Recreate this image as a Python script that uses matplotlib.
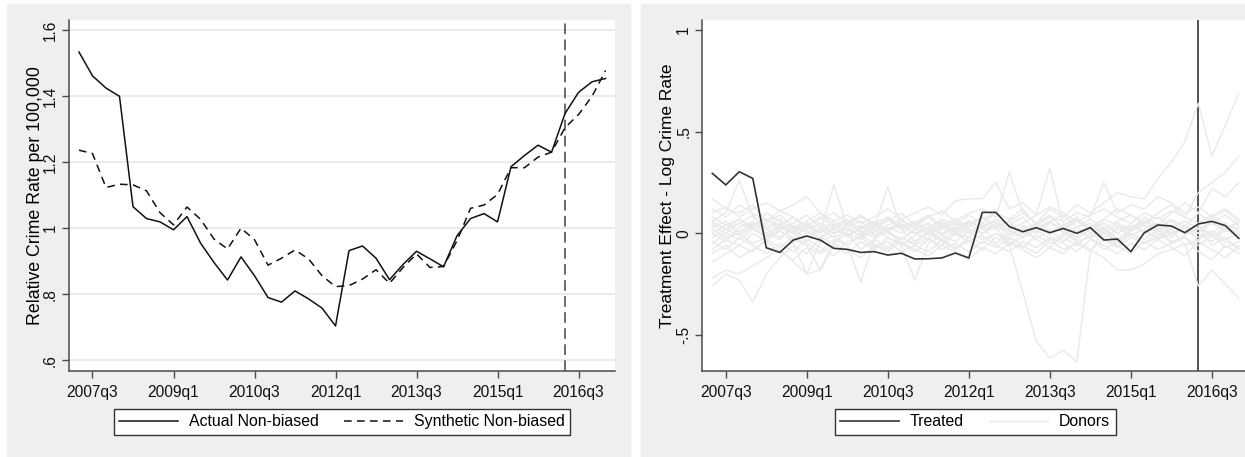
import numpy as np
import pandas as pd
import matplotlib.pyplot as plt
from matplotlib.patches import Rectangle

plt.rcParams['font.family'] = ['Liberation Sans', 'DejaVu Sans']

# quarterly periods 2007q2 .. 2017q1
quarters = pd.period_range('2007Q2', '2017Q1', freq='Q')
tick_quarters = ['2007q3', '2009q1', '2010q3', '2012q1', '2013q3', '2015q1', '2016q3']
treat_quarter = '2016q2'

# left panel: relative crime rate per 100,000
actual = [1.533, 1.461, 1.424, 1.399, 1.065, 1.029, 1.019, 0.995, 1.035, 0.955,
          0.896, 0.843, 0.913, 0.856, 0.790, 0.776, 0.810, 0.786, 0.758, 0.704,
          0.932, 0.946, 0.909, 0.844, 0.890, 0.930, 0.907, 0.883, 0.977, 1.029,
          1.044, 1.019, 1.186, 1.220, 1.251, 1.230, 1.347, 1.411, 1.443, 1.453]
synthetic = [1.236, 1.226, 1.123, 1.133, 1.131, 1.113, 1.047, 1.010, 1.064, 1.027,
             0.967, 0.937, 1.000, 0.965, 0.888, 0.909, 0.934, 0.907, 0.856, 0.823,
             0.826, 0.846, 0.874, 0.833, 0.881, 0.922, 0.881, 0.884, 0.962, 1.060,
             1.070, 1.102, 1.183, 1.183, 1.215, 1.230, 1.304, 1.344, 1.399, 1.477]

# right panel: treatment effect on log crime rate
treated = [0.295, 0.238, 0.303, 0.270, -0.071, -0.094, -0.033, -0.013, -0.033, -0.074,
           -0.079, -0.094, -0.090, -0.107, -0.098, -0.126, -0.125, -0.121, -0.097, -0.121,
           0.103, 0.103, 0.033, 0.008, 0.028, 0.003, 0.024, 0.000, 0.028, -0.033,
           -0.028, -0.090, 0.003, 0.041, 0.036, 0.003, 0.046, 0.059, 0.038, -0.025]

donors = [
    [0.17, 0.12, 0.10, 0.14, 0.06, 0.04, 0.08, 0.02, 0.05, 0.00, 0.03, -0.02, 0.04, 0.01, -0.03, 0.02, 0.05, 0.00, 0.03, 0.06,
     0.02, 0.04, -0.01, 0.03, 0.00, 0.05, 0.02, -0.02, 0.04, 0.01, 0.03, -0.01, 0.02, 0.05, 0.00, 0.03, -0.04, 0.08, 0.02, 0.05],
    [0.06, 0.10, 0.26, 0.08, 0.02, 0.05, -0.03, 0.04, 0.00, 0.06, -0.02, 0.03, 0.00, 0.08, 0.02, -0.04, 0.01, 0.05, 0.00, 0.04,
     0.08, 0.03, 0.06, -0.02, 0.05, 0.01, 0.04, 0.07, 0.00, 0.03, -0.03, 0.02, 0.06, 0.03, -0.01, 0.04, 0.00, 0.09, 0.04, 0.02],
    [-0.26, -0.20, -0.23, -0.34, -0.20, -0.12, -0.06, -0.10, -0.02, -0.05, 0.00, -0.08, -0.03, 0.02, -0.06, -0.01, 0.03, -0.04, 0.00, -0.02,
     0.04, -0.05, 0.00, 0.03, -0.03, 0.02, -0.04, 0.01, -0.02, 0.03, -0.06, 0.00, -0.03, 0.02, -0.05, -0.01, 0.03, -0.06, -0.02, -0.08],
    [-0.22, -0.18, -0.20, -0.16, -0.12, -0.08, -0.14, -0.20, -0.18, -0.06, -0.10, -0.04, -0.08, -0.02, -0.05, -0.09, -0.03, -0.06, 0.00, -0.04,
     -0.08, -0.02, -0.06, 0.01, -0.03, -0.07, 0.00, -0.04, -0.02, -0.08, -0.04, 0.00, -0.05, -0.02, 0.02, -0.06, -0.03, 0.00, -0.07, -0.04],
    [0.05, 0.02, 0.07, 0.03, 0.10, 0.06, 0.02, 0.05, 0.00, 0.24, 0.03, 0.06, 0.01, 0.04, 0.07, 0.02, 0.05, -0.01, 0.03, 0.00,
     0.05, 0.02, -0.03, 0.04, 0.01, 0.06, 0.00, 0.03, 0.05, -0.02, 0.02, 0.04, 0.00, 0.03, 0.06, 0.01, 0.04, -0.02, 0.03, 0.00],
    [0.00, -0.04, 0.03, 0.06, 0.00, -0.03, 0.04, 0.01, -0.02, 0.03, 0.06, 0.00, 0.03, 0.23, 0.02, 0.05, -0.01, 0.04, 0.07, 0.02,
     0.00, 0.05, 0.02, -0.02, 0.03, 0.06, 0.01, -0.03, 0.02, 0.05, 0.00, 0.04, 0.01, -0.02, 0.03, 0.06, 0.02, 0.00, 0.05, 0.01],
    [-0.08, -0.03, -0.06, 0.00, -0.04, 0.02, -0.05, -0.20, -0.04, -0.01, -0.06, -0.24, -0.03, -0.07, -0.02, -0.05, 0.00, -0.04, -0.08, -0.02,
     -0.05, 0.00, -0.04, -0.07, -0.01, -0.05, -0.02, -0.06, 0.00, -0.03, -0.07, -0.02, -0.05, 0.00, -0.04, -0.02, -0.06, -0.01, -0.04, -0.07],
    [0.02, -0.02, 0.00, -0.05, -0.02, 0.01, -0.03, -0.06, -0.18, -0.04, 0.00, -0.03, 0.02, -0.02, -0.06, -0.23, -0.05, -0.01, -0.04, 0.01,
     -0.03, 0.00, -0.05, -0.02, 0.02, -0.03, -0.01, 0.03, -0.02, 0.00, -0.04, -0.01, 0.02, -0.03, 0.00, 0.03, -0.02, 0.01, -0.03, 0.00],
    [0.10, 0.13, 0.08, 0.12, 0.15, 0.11, 0.14, 0.18, 0.10, 0.06, 0.09, 0.05, 0.08, 0.12, 0.07, 0.10, 0.13, 0.09, 0.16, 0.17,
     0.17, 0.25, 0.12, 0.15, 0.09, 0.13, 0.10, 0.06, 0.09, 0.12, 0.08, 0.05, 0.10, 0.07, 0.11, 0.08, 0.05, 0.09, 0.12, 0.07],
    [0.03, 0.06, 0.00, 0.04, 0.07, 0.02, 0.05, 0.09, 0.03, 0.00, 0.04, 0.08, 0.05, 0.02, 0.06, 0.03, 0.08, 0.11, 0.06, 0.10,
     0.12, 0.08, 0.30, 0.10, 0.05, 0.09, 0.02, 0.06, 0.03, 0.07, 0.04, 0.01, 0.05, 0.08, 0.03, 0.06, 0.02, 0.05, 0.09, 0.04],
    [-0.05, 0.00, -0.03, 0.02, -0.01, 0.03, 0.00, -0.04, 0.02, -0.02, 0.01, 0.04, -0.01, 0.02, 0.05, 0.00, -0.03, 0.02, 0.05, 0.01,
     0.03, 0.06, 0.02, 0.05, 0.09, 0.32, 0.04, 0.08, 0.02, 0.05, 0.00, 0.03, 0.06, 0.01, 0.04, 0.00, 0.02, 0.05, 0.01, 0.03],
    [0.08, 0.04, 0.07, 0.02, 0.05, 0.09, 0.03, 0.06, 0.10, 0.04, 0.07, 0.02, 0.05, 0.08, 0.03, 0.06, 0.02, 0.07, 0.04, 0.09,
     0.05, 0.10, 0.07, 0.12, 0.04, 0.08, 0.06, 0.10, 0.08, 0.25, 0.10, 0.14, 0.12, 0.18, 0.15, 0.10, 0.13, 0.08, 0.11, 0.06],
    [0.04, 0.00, 0.05, 0.02, -0.02, 0.03, 0.00, 0.04, -0.03, 0.02, 0.05, 0.01, -0.02, 0.03, 0.00, 0.04, 0.01, -0.03, 0.02, 0.05,
     0.00, 0.03, -0.06, -0.29, -0.53, -0.615, -0.574, -0.632, -0.09, 0.02, -0.03, 0.01, 0.04, 0.00, -0.02, 0.03, 0.00, -0.04, 0.02, -0.01],
    [0.00, 0.04, 0.01, 0.05, 0.02, -0.02, 0.03, 0.00, 0.05, 0.02, -0.01, 0.03, 0.06, 0.01, 0.04, 0.00, 0.03, 0.06, 0.02, 0.05,
     0.08, 0.03, 0.06, 0.10, 0.05, 0.12, 0.08, 0.14, 0.10, 0.15, 0.20, 0.18, 0.17, 0.27, 0.35, 0.45, 0.64, 0.38, 0.53, 0.69],
    [0.06, 0.02, 0.05, 0.09, 0.03, 0.07, 0.01, 0.04, 0.08, 0.03, 0.06, 0.00, 0.04, 0.07, 0.02, 0.05, 0.09, 0.04, 0.01, 0.06,
     0.03, 0.07, 0.04, 0.00, 0.05, 0.08, 0.03, 0.06, 0.02, 0.07, 0.12, 0.09, 0.05, 0.10, 0.14, 0.08, 0.20, 0.25, 0.30, 0.38],
    [-0.10, -0.06, -0.12, -0.08, -0.04, -0.09, -0.13, -0.07, -0.10, -0.05, -0.08, -0.12, -0.06, -0.09, -0.04, -0.08, -0.11, -0.06, -0.09, -0.13,
     -0.07, -0.10, -0.05, -0.08, -0.12, -0.07, -0.10, -0.04, -0.08, -0.12, -0.18, -0.18, -0.15, -0.10, -0.08, -0.05, -0.26, -0.18, -0.25, -0.32],
    [-0.02, 0.02, -0.01, 0.03, 0.00, 0.04, 0.01, -0.02, 0.03, 0.00, 0.02, -0.01, 0.03, 0.00, -0.03, 0.02, 0.00, 0.03, -0.01, 0.02,
     0.00, 0.04, 0.01, -0.02, 0.03, 0.00, 0.04, 0.01, 0.03, 0.00, 0.05, 0.02, 0.08, 0.04, 0.10, 0.15, 0.10, 0.22, 0.18, 0.25],
    [0.12, 0.08, 0.14, 0.10, 0.06, 0.11, 0.08, 0.03, 0.07, 0.10, 0.05, 0.09, 0.03, 0.06, 0.10, 0.04, 0.08, 0.02, 0.06, 0.03,
     0.07, 0.10, 0.04, 0.08, 0.01, 0.06, 0.09, 0.03, 0.07, 0.02, 0.06, 0.09, 0.04, 0.02, 0.07, 0.03, 0.10, 0.05, 0.02, 0.06],
    [-0.14, -0.10, -0.06, -0.09, -0.03, -0.07, -0.02, -0.05, -0.09, -0.03, -0.06, -0.01, -0.05, -0.08, -0.02, -0.06, -0.09, -0.03, -0.07, -0.04,
     -0.01, -0.06, -0.09, -0.04, -0.07, -0.02, -0.05, -0.09, -0.03, -0.06, -0.10, -0.05, -0.08, -0.03, -0.07, -0.11, -0.04, -0.08, -0.12, -0.06],
    [-0.04, -0.08, -0.02, -0.06, -0.10, -0.05, -0.09, -0.03, -0.07, -0.11, -0.04, -0.02, -0.07, -0.04, -0.09, -0.06, -0.02, -0.08, -0.05, -0.09,
     -0.04, -0.07, -0.02, -0.06, -0.10, -0.03, -0.08, -0.05, -0.09, -0.02, -0.06, -0.10, -0.04, -0.08, -0.05, -0.02, -0.09, -0.13, -0.06, -0.10],
]

left_yticks = [0.6, 0.8, 1.0, 1.2, 1.4, 1.6]
left_ylabels = ['.6', '.8', '1', '1.2', '1.4', '1.6']
right_yticks = [-0.5, 0, 0.5, 1]
right_ylabels = ['-.5', '0', '.5', '1']

qlabels = [f"{p.year}q{p.quarter}" for p in quarters]
x = np.arange(len(qlabels))
tick_pos = [qlabels.index(q) for q in tick_quarters]
treat_pos = qlabels.index(treat_quarter)

W, H = 1245, 457
fig = plt.figure(figsize=(W / 100, H / 100), dpi=100)
bg = '#efefef'
fig.patches.append(Rectangle((7 / W, 0), (630 - 7) / W, (H - 4) / H,
                             transform=fig.transFigure, color=bg, zorder=-5))
fig.patches.append(Rectangle((641 / W, 0), (W - 641) / W, (H - 4) / H,
                             transform=fig.transFigure, color=bg, zorder=-5))

ax1 = fig.add_axes([69 / W, 86 / H, 546 / W, 351 / H])
ax2 = fig.add_axes([702.3 / W, 86 / H, 546 / W, 351 / H])

axcol = '#4a4a4a'
for ax in (ax1, ax2):
    ax.set_facecolor('white')
    for s in ('top', 'right'):
        ax.spines[s].set_visible(False)
    for s in ('left', 'bottom'):
        ax.spines[s].set_color(axcol)
        ax.spines[s].set_linewidth(1.1)
    ax.set_xlim(-0.74, 39.7)
    ax.set_xticks(tick_pos)
    ax.set_xticklabels(tick_quarters)
    ax.tick_params(axis='both', direction='out', length=5, width=1, color=axcol,
                   labelsize=11.2, labelcolor='#111111')
    ax.tick_params(axis='x', pad=5)
    ax.tick_params(axis='y', pad=3, labelrotation=90)

# left panel
ax1.set_ylim(0.5676, 1.630)
ax1.set_yticks(left_yticks)
ax1.set_yticklabels(left_ylabels)
ax1.grid(axis='y', color='#e6e6e6', linewidth=1.1)
ax1.set_axisbelow(True)
ax1.axvline(treat_pos, color='#444444', linewidth=1.1, dashes=(7, 3.5))
ax1.plot(x, actual, color='#111111', linewidth=1.1, label='Actual Non-biased')
ax1.plot(x, synthetic, color='#111111', linewidth=1.1, dashes=(5, 3.5),
         label='Synthetic Non-biased')
ax1.set_ylabel('Relative Crime Rate per 100,000', fontsize=12.8, labelpad=-1)

# right panel
ax2.set_ylim(-0.677, 1.049)
ax2.set_yticks(right_yticks)
ax2.set_yticklabels(right_ylabels)
ax2.axvline(treat_pos, color='#333333', linewidth=1.2)
for k, d in enumerate(donors):
    ax2.plot(x, d, color='#e9e9e9', linewidth=1.0,
             label='Donors' if k == 0 else None)
ax2.plot(x, treated, color='#333333', linewidth=1.2, label='Treated')
ax2.set_ylabel('Treatment Effect - Log Crime Rate', fontsize=12.5, labelpad=0.5)

for ax in (ax1, ax2):
    for t in ax.get_yticklabels():
        t.set_va('center')

leg_kw = dict(loc='upper center', bbox_to_anchor=(0.5, -0.085), ncol=2,
              fontsize=11.4, frameon=True, fancybox=False, framealpha=1,
              edgecolor='#333333', handlelength=3.7, handletextpad=0.7,
              columnspacing=1.6, borderpad=0.35)
l1 = ax1.legend(**leg_kw)
h, lab = ax2.get_legend_handles_labels()
l2 = ax2.legend([h[1], h[0]], [lab[1], lab[0]], **leg_kw)
for lg in (l1, l2):
    lg.get_frame().set_linewidth(1.0)

fig.savefig('out.png', dpi=100)
